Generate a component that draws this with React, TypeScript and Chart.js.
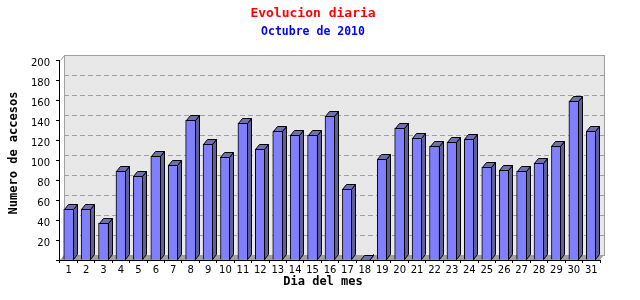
import React, { useEffect, useRef } from 'react';
import { Chart, registerables } from 'chart.js';

Chart.register(...registerables);

const days: string[] = [
  '1', '2', '3', '4', '5', '6', '7', '8', '9', '10', '11', '12', '13', '14', '15', '16',
  '17', '18', '19', '20', '21', '22', '23', '24', '25', '26', '27', '28', '29', '30', '31',
];
const visits: number[] = [
  51, 51, 37, 89, 84, 104, 95, 140, 116, 103, 137, 111, 129, 125, 125, 144,
  71, 0, 101, 132, 122, 114, 118, 121, 93, 90, 89, 97, 114, 159, 129,
];
const yMin = 0;
const yMax = 200;
const yStep = 20;

const titleText = 'Evolucion diaria';
const subtitleText = 'Octubre de 2010';
const xTitleText = 'Dia del mes';
const yTitleText = 'Numero de accesos';

const DX = 4;
const DY = -5;

const FRONT = '#8080ff';
const SIDE = '#606099';
const TOP = '#7070b0';
const WALL = '#e8e8e8';
const FLOOR = '#a0a0a0';
const GRID = '#a0a0a0';
const MONO = 'DejaVu Sans Mono';

const box3d = {
  id: 'box3d',
  beforeDatasetsDraw(chart: any) {
    const { ctx, chartArea, scales } = chart;
    const { left, right, top, bottom } = chartArea;
    const y = scales.y;
    ctx.save();
    ctx.fillStyle = WALL;
    ctx.fillRect(left + DX, top + DY, right - left, bottom - top);
    ctx.strokeStyle = GRID;
    ctx.lineWidth = 1;
    ctx.setLineDash([5, 3]);
    y.ticks.forEach((t: any) => {
      if (t.value <= yMin || t.value >= yMax) return;
      const py = Math.round(y.getPixelForValue(t.value) + DY) + 0.5;
      ctx.beginPath();
      ctx.moveTo(left + DX, py);
      ctx.lineTo(right + DX, py);
      ctx.stroke();
    });
    ctx.setLineDash([]);
    ctx.strokeStyle = '#a0a0a0';
    ctx.strokeRect(left + DX + 0.5, top + DY + 0.5, right - left, bottom - top);
    ctx.fillStyle = FLOOR;
    ctx.beginPath();
    ctx.moveTo(left, bottom);
    ctx.lineTo(left + DX, bottom + DY);
    ctx.lineTo(right + DX, bottom + DY);
    ctx.lineTo(right, bottom);
    ctx.closePath();
    ctx.fill();
    ctx.strokeStyle = '#a0a0a0';
    ctx.beginPath();
    ctx.moveTo(left + 0.5, top + 0.5);
    ctx.lineTo(left + DX + 0.5, top + DY + 0.5);
    ctx.stroke();
    ctx.restore();
  },
  afterDatasetsDraw(chart: any) {
    const { ctx, chartArea } = chart;
    const { left, right, top, bottom } = chartArea;
    const meta = chart.getDatasetMeta(0);
    ctx.save();
    ctx.lineWidth = 1;
    ctx.strokeStyle = '#000000';
    meta.data.forEach((bar: any) => {
      const { x, y, base, width } = bar.getProps(['x', 'y', 'base', 'width'], true);
      const l = Math.round(x - width / 2) + 0.5;
      const r = Math.round(x + width / 2) - 0.5;
      const ty = Math.round(y) + 0.5;
      const by = Math.round(base) - 0.5;
      ctx.fillStyle = SIDE;
      ctx.beginPath();
      ctx.moveTo(r, ty);
      ctx.lineTo(r + DX, ty + DY);
      ctx.lineTo(r + DX, by + DY);
      ctx.lineTo(r, by);
      ctx.closePath();
      ctx.fill();
      ctx.stroke();
      ctx.fillStyle = TOP;
      ctx.beginPath();
      ctx.moveTo(l, ty);
      ctx.lineTo(l + DX, ty + DY);
      ctx.lineTo(r + DX, ty + DY);
      ctx.lineTo(r, ty);
      ctx.closePath();
      ctx.fill();
      ctx.stroke();
    });
    ctx.strokeStyle = '#000000';
    ctx.beginPath();
    ctx.moveTo(left - 0.5, top);
    ctx.lineTo(left - 0.5, bottom + 0.5);
    ctx.lineTo(right, bottom + 0.5);
    ctx.stroke();
    ctx.restore();
  },
  afterDraw(chart: any) {
    const { ctx, chartArea } = chart;
    const { left, right, top, bottom } = chartArea;
    const cx = (left + right) / 2;
    ctx.save();
    ctx.textAlign = 'center';
    ctx.textBaseline = 'middle';
    // main title & subtitle
    ctx.fillStyle = '#ff0000';
    ctx.font = `bold 13px "${MONO}"`;
    ctx.fillText(titleText, cx - 17, 14);
    ctx.fillStyle = '#0000ff';
    ctx.font = `bold 11.5px "${MONO}"`;
    ctx.fillText(subtitleText, cx - 17, 32);
    // axis titles
    ctx.fillStyle = '#000000';
    ctx.font = `bold 12px "${MONO}"`;
    ctx.fillText(xTitleText, cx - 7, bottom + 22);
    ctx.translate(14, (top + bottom) / 2 - 7);
    ctx.rotate(-Math.PI / 2);
    ctx.fillText(yTitleText, 0, 0);
    ctx.restore();
  },
};

export default function App() {
  const ref = useRef<HTMLCanvasElement | null>(null);

  useEffect(() => {
    document.body.style.margin = '0';
    const canvas = ref.current;
    if (!canvas) return;
    const chart = new Chart(canvas, {
      type: 'bar',
      data: {
        labels: days,
        datasets: [
          {
            data: visits,
            backgroundColor: FRONT,
            borderColor: '#000000',
            borderWidth: 1,
            barThickness: 10,
          },
        ],
      },
      options: {
        responsive: false,
        animation: false,
        devicePixelRatio: 1,
        layout: { padding: { left: 0, right: 40, top: 60, bottom: 0 } },
        plugins: {
          legend: { display: false },
          tooltip: { enabled: false },
          title: { display: false },
          subtitle: { display: false },
        },
        scales: {
          x: {
            type: 'category',
            offset: true,
            grid: { display: true, drawOnChartArea: false, drawTicks: true, tickLength: 3, color: '#000000', offset: true },
            border: { display: false },
            ticks: {
              autoSkip: false,
              maxRotation: 0,
              padding: 1,
              color: '#000000',
              font: { family: 'DejaVu Sans', size: 10 },
            },
            afterFit: (scale: any) => {
              scale.height = 40;
            },
          },
          y: {
            type: 'linear',
            min: yMin,
            max: yMax,
            grid: { display: true, drawOnChartArea: false, drawTicks: true, tickLength: 4, color: '#000000' },
            border: { display: false },
            ticks: {
              stepSize: yStep,
              padding: 6,
              labelOffset: 3,
              color: '#000000',
              font: { family: 'DejaVu Sans', size: 10 },
              callback: (v: any) => (v === 0 ? '' : String(v)),
            },
            afterFit: (scale: any) => {
              scale.width = 60;
            },
          },
        },
      },
      plugins: [box3d],
    } as any);
    return () => chart.destroy();
  }, []);

  return (
    <div style={{ width: 640, height: 300 }}>
      <canvas ref={ref} width={640} height={300} style={{ display: 'block' }} />
    </div>
  );
}
